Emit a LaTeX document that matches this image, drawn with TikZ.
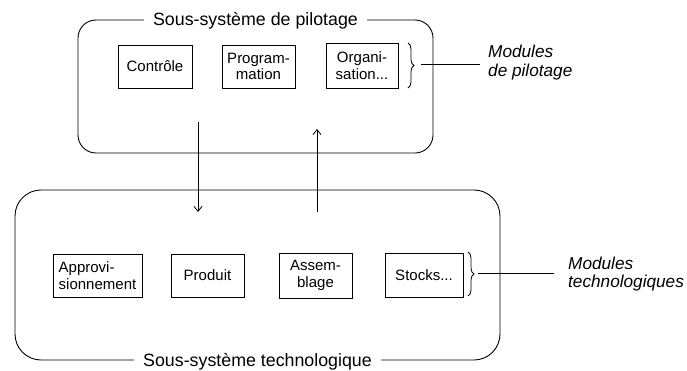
\documentclass[tikz,border=0pt]{standalone}
\usepackage{fontspec}
\setmainfont{Liberation Sans}
\usetikzlibrary{arrows.meta,decorations.pathreplacing}
\begin{document}
\begin{tikzpicture}[x=1pt,y=-1pt,
  every node/.style={font=\fontsize{15}{16.5}\selectfont},
  modbox/.style={draw,line width=0.9pt,minimum height=43pt,inner sep=1pt,align=center},
  sysbox/.style={draw,line width=0.9pt,inner sep=0pt},
  systitle/.style={fill=white,inner xsep=9pt,inner ysep=1pt,anchor=base,font=\fontsize{17.8}{20}\selectfont},
  modlabel/.style={align=left,anchor=west,inner sep=2pt},
  flow/.style={line width=0.8pt,-{Straight Barb[length=5pt,width=8pt]}},
  bracestyle/.style={decorate,decoration={brace,amplitude=6pt},line width=0.8pt},
  lead/.style={line width=0.8pt}
]
\useasboundingbox (0,0) rectangle (687,370);

% system boxes
\node[sysbox,rounded corners=18pt,minimum width=355pt,minimum height=133pt] (top) at (255.5,86.5) {};
\node[sysbox,rounded corners=26pt,minimum width=485pt,minimum height=170pt] (bot) at (257.5,275) {};
\node[systitle,yshift=-5.5pt] (toptitle) at (top.north) {Sous-système de pilotage};
\node[systitle,yshift=-6pt] (bottitle) at (bot.south) {Sous-système technologique};

% pilot modules
\node[modbox,minimum width=74pt] (ctrl) at (155,66.5) {Contrôle};
\node[modbox,minimum width=73pt] (prog) at (258.5,66.5) {Program-\\mation};
\node[modbox,minimum width=72pt,minimum height=45pt] (orga) at (362,65.5) {Organi-\\sation...};

% technological modules
\node[modbox,minimum width=89pt,align=left] (appro) at (97.5,275.5) {Approvi-\\sionnement};
\node[modbox,minimum width=73pt] (prod) at (207.5,275.5) {Produit};
\node[modbox,minimum width=73pt,minimum height=45pt] (assem) at (315.5,275.5) {Assem-\\blage};
\node[modbox,minimum width=78pt,minimum height=44pt] (stock) at (424,275) {Stocks...};

% flows between subsystems
\coordinate (d1) at (198,122);
\coordinate (d2) at (198,212);
\coordinate (u1) at (317,212);
\coordinate (u2) at (317,129);
\draw[flow] (d1) -- (d2);
\draw[flow] (u1) -- (u2);

% braces and labels
\coordinate (bt1) at (408,43);
\coordinate (bt2) at (408,88);
\draw[bracestyle] (bt1) -- (bt2);
\coordinate (bb1) at (468,252);
\coordinate (bb2) at (468,296);
\draw[bracestyle] (bb1) -- (bb2);

\node[modlabel,font=\fontsize{17.2}{19}\selectfont\itshape] (mp) at (486,63) {Modules\\de pilotage};
\node[modlabel,font=\fontsize{17.2}{17.5}\selectfont\itshape] (mt) at (566,274) {Modules\\technologiques};

\coordinate (lt) at (421,64);
\coordinate (lb) at (478,273);
\draw[lead] (lt) -- ([xshift=-6pt]lt -| mp.west);
\draw[lead] (lb) -- ([xshift=-12pt]lb -| mt.west);
\end{tikzpicture}
\end{document}
